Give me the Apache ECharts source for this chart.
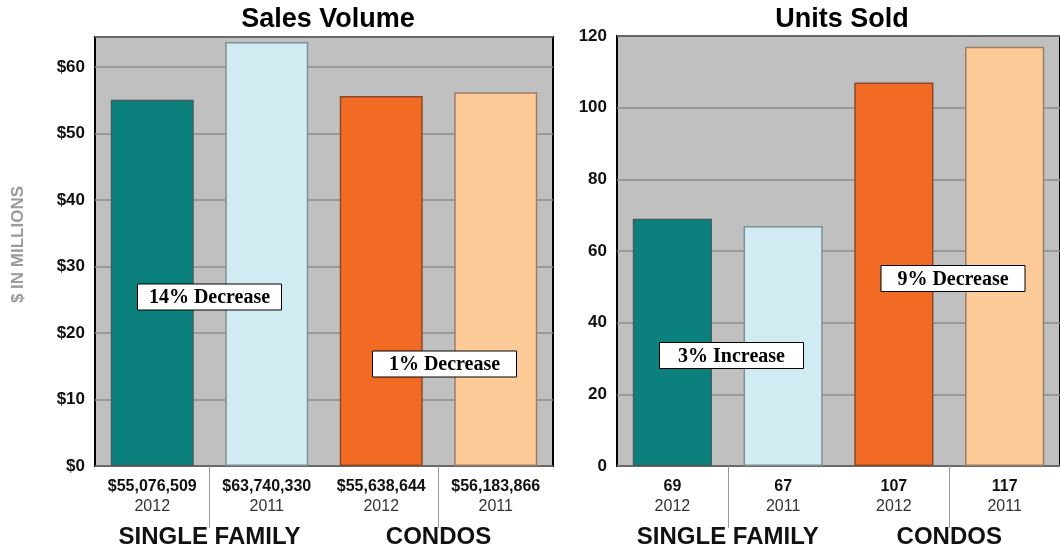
<!DOCTYPE html>
<html>
<head>
<meta charset="utf-8">
<script src="https://cdn.jsdelivr.net/npm/echarts@6/dist/echarts.min.js"></script>
<style>
html,body{margin:0;padding:0;background:#fff;}
#c{width:1060px;height:552px;}
</style>
</head>
<body>
<div id="c"></div>
<script>
// ---- data ----
const years = ['2012', '2011', '2012', '2011'];
const groups = ['SINGLE FAMILY', 'CONDOS'];
const salesVolume = [55076509, 63740330, 55638644, 56183866];
const unitsSold = [69, 67, 107, 117];
const barColors = ['#0b807c', '#d1ebf2', '#f26b24', '#fdcb98'];
const barBorders = ['#3f5f5e', '#7f9093', '#8a4a2a', '#9a7f66'];
const salesTicks = [0, 10, 20, 30, 40, 50, 60];
const unitTicks = [0, 20, 40, 60, 80, 100, 120];
const notes = ['14% Decrease', '1% Decrease', '3% Increase', '9% Decrease'];

const FONT = '"Liberation Sans", Arial, Helvetica, sans-serif';
const salesM = salesVolume.map(v => v / 1e6);
const salesLabels = salesVolume.map(v => '$' + v.toLocaleString('en-US'));
const unitLabels = unitsSold.map(v => String(v));

function catAxis(gridIndex, valueLabels) {
  return {
    type: 'category', gridIndex: gridIndex,
    data: years.map((y, i) => String(i)),
    axisLine: {show: false},
    axisTick: {show: false},
    axisLabel: {
      margin: 11, interval: 0, hideOverlap: false,
      formatter: function (v, i) { return '{v|' + valueLabels[i] + '}\n{y|' + years[i] + '}'; },
      rich: {
        v: {fontFamily: FONT, fontWeight: 'bold', fontSize: 16, color: '#111', lineHeight: 20, letterSpacing: -0.6},
        y: {fontFamily: FONT, fontSize: 16, color: '#333', lineHeight: 20}
      }
    },
    splitLine: {show: false}
  };
}
function groupAxis(gridIndex) {
  return {
    type: 'category', gridIndex: gridIndex, data: groups, position: 'bottom',
    axisLine: {show: false},
    axisTick: {show: true, alignWithLabel: true, interval: 0, length: 62, inside: false,
      lineStyle: {color: '#9a9a9a', width: 1}},
    axisLabel: {interval: 0, hideOverlap: false, margin: 59, fontFamily: FONT, fontWeight: 'bold', fontSize: 24, color: '#111'}
  };
}
function valAxis(gridIndex, max, interval, fmt, name, showMax) {
  return {
    type: 'value', gridIndex: gridIndex, min: 0, max: max, interval: interval,
    name: name || '', nameLocation: 'middle', nameGap: 68,
    nameTextStyle: {fontFamily: FONT, fontWeight: 'bold', fontSize: 17, color: '#9b9b9b', padding: [0, 0, 0, 14]},
    axisLine: {show: false}, axisTick: {show: false},
    axisLabel: {showMaxLabel: !!showMax, margin: 10, fontFamily: FONT, fontWeight: 'bold', fontSize: 17, color: '#111', formatter: fmt},
    splitLine: {show: true, lineStyle: {color: '#8c8c8c', width: 1.5}}
  };
}
function barData(vals) {
  return vals.map((v, i) => ({value: v, itemStyle: {color: barColors[i], borderColor: barBorders[i], borderWidth: 1.5}}));
}
function note(text, cx, cy) {
  return {
    type: 'group', x: cx, y: cy, z: 100, zlevel: 1,
    children: [
      {type: 'rect', z: 100, zlevel: 1, shape: {x: -72, y: -13, width: 144, height: 26}, style: {fill: '#fff', stroke: '#000', lineWidth: 1}},
      {type: 'text', z: 101, zlevel: 1, x: 0, y: 1, style: {text: text, fill: '#000', align: 'center', verticalAlign: 'middle',
        font: 'bold 20px "Liberation Serif", "Times New Roman", serif'}}
    ]
  };
}

const chart = echarts.init(document.getElementById('c'), null, {renderer: 'canvas'});
chart.setOption({
  animation: false,
  backgroundColor: '#fff',
  title: [
    {text: 'Sales Volume', left: 323, top: 1, textAlign: 'center', textStyle: {fontFamily: FONT, fontWeight: 'bold', fontSize: 27, color: '#000'}},
    {text: 'Units Sold', left: 837, top: 1, textAlign: 'center', textStyle: {fontFamily: FONT, fontWeight: 'bold', fontSize: 27, color: '#000'}}
  ],
  grid: [
    {left: 95, top: 37, width: 458, height: 429, show: true, backgroundColor: '#c1c0c0', borderColor: '#000', borderWidth: 2},
    {left: 617, top: 36, width: 448, height: 430, show: true, backgroundColor: '#c1c0c0', borderColor: '#000', borderWidth: 2}
  ],
  xAxis: [catAxis(0, salesLabels), catAxis(1, unitLabels), groupAxis(0), groupAxis(1)],
  yAxis: [
    valAxis(0, 64.5, 10, v => '$' + v, '$ IN MILLIONS', false),
    valAxis(1, 120, 20, v => String(v), '', true)
  ],
  series: [
    {type: 'bar', xAxisIndex: 0, yAxisIndex: 0, barWidth: '72.5%', data: barData(salesM), z: 3},
    {type: 'bar', xAxisIndex: 1, yAxisIndex: 1, barWidth: '71.5%', data: barData(unitsSold), z: 3}
  ],
  graphic: [
    note(notes[0], 209.5, 297),
    note(notes[1], 444.5, 364),
    note(notes[2], 731.5, 355.5),
    note(notes[3], 953, 278.5)
  ]
});
</script>
</body>
</html>
